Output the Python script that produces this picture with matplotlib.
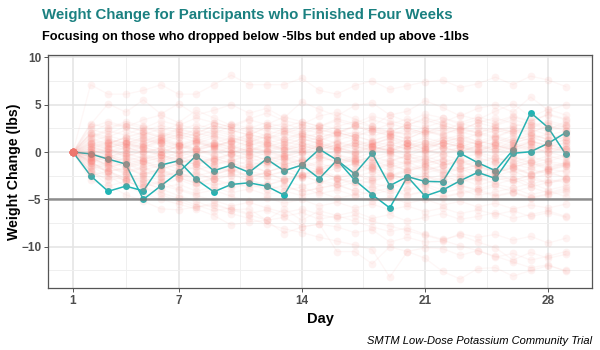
import numpy as np
import matplotlib
matplotlib.use('Agg')
from matplotlib import pyplot as plt
from matplotlib.ticker import FixedLocator

plt.rcParams['font.family'] = ['Liberation Sans', 'DejaVu Sans']

days = np.arange(1, 30)

# highlighted participants (dropped below -5 lbs, ended above -1 lbs)
focus_a = [0, -0.2, -0.75, -1.27, -5.0, -3.56, -2.15, -0.39, -1.98, -1.38, -2.15, -0.74, -1.98, -1.38,
           0.3, -0.85, -2.3, -0.15, -3.55, -2.6, -3.1, -3.14, -0.14, -1.13, -1.97, 0.21, 4.16, 2.57, -0.25]
focus_b = [0, -2.5, -4.15, -3.6, -4.1, -1.38, -0.92, -2.89, -4.2, -3.42, -3.25, -3.6, -4.55, -1.38,
           -2.8, -0.85, -2.95, -4.5, -5.9, -2.6, -4.65, -4.02, -3.03, -2.15, -2.79, -0.14, 0.03, 0.92, 2.05]

# everyone else, days 2..29 (day 1 is 0 for all)
others = [
    [7.1, 6.1, 6.1, 6.5, 7.1, 6.1, 6.1, 7.1, 8.1, 7.1, 7.1, 7.1, 7.8, 6.5, 6.1, 7.0, 7.5, 6.6, 7.0, 7.4, 7.6, 6.8, 7.2, 7.9, 7.1, 8.0, 7.6, 6.9],
    [2.9, 5.1, 4.2, 5.5, 4.0, 5.1, 3.9, 4.4, 5.0, 4.1, 4.6, 3.6, 5.3, 4.5, 3.8, 4.9, 5.2, 3.9, 4.3, 5.4, 4.7, 3.8, 4.6, 5.0, 4.2, 5.8, 4.4, 5.0],
    [2.0, 3.0, 2.6, 3.4, 3.9, 3.1, 4.4, 3.6, 2.8, 3.5, 4.1, 3.3, 2.9, 3.8, 4.2, 3.5, 2.7, 3.9, 3.2, 4.0, 3.6, 2.9, 3.4, 4.3, 5.1, 3.7, 4.5, 3.9],
    [1.0, 0.6, 1.2, 0.8, 1.5, 0.9, 1.3, 0.7, 1.1, 1.6, 0.9, 1.4, 1.0, 0.5, 1.2, 1.8, 1.1, 0.7, 1.3, 0.9, 1.5, 1.2, 0.8, 1.6, 1.0, 1.4, 1.9, 1.2],
    [-0.5, -1.0, -0.7, -1.3, -0.9, -1.5, -1.1, -0.6, -1.2, -1.8, -1.0, -1.4, -0.8, -1.6, -1.2, -0.9, -1.7, -1.3, -1.0, -1.9, -1.4, -1.1, -1.6, -2.0, -1.3, -1.7, -1.2, -1.5],
    [2.0, 1.6, 2.3, 1.8, 2.5, 2.1, 1.7, 2.4, 2.0, 2.7, 2.2, 1.9, 2.6, 2.3, 2.0, 2.8, 2.4, 2.1, 2.9, 2.5, 2.2, 3.0, 2.6, 2.3, 2.7, 3.1, 2.5, 2.8],
    [-1.5, -2.0, -1.8, -2.4, -2.1, -2.7, -2.3, -2.9, -2.5, -2.2, -2.8, -3.1, -2.6, -3.0, -3.4, -2.9, -3.3, -3.7, -3.1, -3.5, -3.0, -3.6, -3.9, -3.4, -3.8, -3.3, -4.0, -3.6],
    [0.2, -0.3, 0.5, 0.0, 0.4, -0.2, 0.3, 0.6, -0.1, 0.4, 0.1, -0.4, 0.3, 0.7, 0.2, -0.2, 0.5, 0.1, 0.6, 0.0, 0.4, 0.8, 0.3, -0.1, 0.5, 0.9, 0.4, 0.2],
    [-1.0, -0.4, -1.2, -0.8, -0.3, -1.1, -0.6, -1.4, -0.9, -0.5, -1.3, -0.7, -1.5, -1.0, -0.6, -1.2, -0.8, -1.6, -1.1, -0.7, -1.4, -0.9, -1.7, -1.2, -0.8, -1.5, -1.0, -1.3],
    [1.5, 2.2, 1.8, 2.6, 2.0, 1.6, 2.4, 1.9, 2.8, 2.3, 1.7, 2.5, 2.1, 2.9, 2.4, 1.8, 2.7, 2.2, 1.9, 2.6, 3.2, 2.5, 2.0, 2.8, 3.4, 2.9, 3.1, 2.6],
    [-2.0, -2.5, -3.0, -2.7, -3.3, -2.9, -3.6, -3.2, -3.8, -3.4, -4.0, -3.6, -4.2, -3.8, -3.5, -4.1, -4.5, -4.0, -4.6, -4.2, -4.8, -4.4, -4.1, -4.7, -4.3, -4.9, -4.5, -4.2],
    [0.6, 1.1, 0.4, 0.9, 1.3, 0.7, 1.2, 0.5, 1.0, 1.4, 0.8, 0.3, 1.1, 1.5, 0.9, 0.6, 1.2, 1.7, 1.0, 0.7, 1.3, 1.8, 1.1, 0.8, 1.4, 2.0, 1.3, 1.6],
    [-0.2, 0.3, -0.5, 0.1, -0.3, -0.8, -0.2, 0.2, -0.6, -0.1, -0.9, -0.4, 0.0, -0.7, -0.3, -1.0, -0.5, -0.1, -0.8, -0.4, -1.1, -0.6, -0.2, -0.9, -0.5, -1.2, -0.7, -0.3],
    [1.2, 0.8, 1.6, 2.1, 1.5, 2.4, 1.9, 2.8, 2.3, 1.8, 2.6, 3.0, 2.4, 2.0, 2.7, 3.2, 2.6, 2.1, 2.9, 3.4, 2.8, 2.3, 3.1, 3.6, 3.0, 2.5, 3.3, 2.8],
    [-1.2, -1.7, -1.1, -1.9, -1.4, -2.2, -1.6, -2.4, -1.8, -1.3, -2.1, -1.5, -2.3, -1.8, -2.6, -2.0, -1.6, -2.4, -2.9, -2.2, -1.8, -2.7, -2.1, -2.5, -3.0, -2.4, -2.0, -2.8],
    [0.5, 0.0, 0.8, 0.3, -0.2, 0.6, 1.0, 0.4, -0.1, 0.7, 1.1, 0.2, 0.6, 1.2, 0.5, 0.0, 0.9, 1.4, 0.6, 0.1, 1.0, 1.5, 0.8, 0.3, 1.2, 1.7, 0.9, 1.3],
    [-0.8, -1.3, -2.0, -1.6, -2.3, -1.8, -2.5, -2.1, -1.7, -2.6, -2.2, -2.9, -2.4, -2.0, -2.8, -3.2, -2.6, -2.2, -3.0, -2.5, -3.3, -2.8, -3.5, -3.0, -2.6, -3.4, -2.9, -3.2],
    [0.0, 0.5, 0.9, 0.4, 1.0, 0.6, 0.2, 0.8, 0.3, 0.9, 0.5, 1.1, 0.7, 0.2, 0.8, 1.3, 0.6, 0.2, 0.9, 0.4, 1.0, 0.5, 1.2, 0.7, 0.3, 1.1, 0.6, 0.9],
    [-0.3, -0.8, -0.4, -1.0, -1.5, -0.9, -1.3, -0.7, -1.2, -1.7, -1.1, -0.6, -1.4, -1.9, -1.3, -0.8, -1.6, -1.2, -2.0, -1.5, -1.0, -1.8, -1.4, -2.1, -1.6, -1.1, -1.9, -1.4],
    [3.0, 2.5, 3.2, 2.7, 2.2, 2.9, 2.4, 3.1, 2.6, 2.1, 2.8, 2.3, 1.9, 2.6, 2.1, 2.7, 2.2, 1.8, 2.5, 2.0, 2.6, 2.1, 1.7, 2.3, 1.9, 2.4, 1.8, 2.2],
    [-2.5, -2.0, -2.8, -2.3, -1.8, -2.6, -2.1, -2.9, -2.4, -3.0, -2.5, -2.0, -2.7, -2.2, -3.1, -2.6, -2.1, -2.9, -2.4, -3.2, -2.7, -2.3, -3.0, -2.5, -2.0, -2.8, -2.3, -2.6],
    [0.8, 1.3, 0.9, 1.6, 1.2, 1.8, 1.4, 2.0, 1.5, 1.1, 1.7, 1.3, 1.9, 1.5, 2.1, 1.6, 1.2, 1.8, 1.4, 2.2, 1.7, 1.3, 1.9, 1.5, 2.3, 1.8, 1.4, 2.0],
    [-0.6, -0.2, -0.9, -0.5, -1.0, -0.4, -1.2, -0.7, -0.2, -1.0, -0.6, -1.3, -0.8, -0.3, -1.1, -0.7, -1.4, -0.9, -0.4, -1.2, -0.8, -1.5, -1.0, -0.5, -1.3, -0.9, -1.6, -1.1],
    [1.8, 1.2, 0.7, 1.4, 0.9, 0.3, 1.0, 0.5, 1.2, 0.6, 0.1, 0.8, 0.3, 1.0, 0.4, -0.1, 0.6, 0.2, 0.9, 0.3, -0.2, 0.5, 0.0, 0.7, 0.2, -0.3, 0.4, 0.1],
    [-1.8, -1.3, -2.2, -1.7, -2.5, -2.0, -1.5, -2.3, -1.8, -2.6, -2.1, -1.6, -2.4, -1.9, -1.4, -2.2, -1.7, -2.5, -2.0, -1.6, -2.3, -1.8, -1.4, -2.1, -1.7, -2.4, -1.9, -1.5],
    [0.3, 0.9, 1.5, 1.1, 1.8, 1.3, 2.0, 1.6, 1.1, 1.9, 1.4, 2.2, 1.7, 1.2, 2.0, 1.6, 2.4, 1.9, 1.4, 2.2, 1.8, 2.6, 2.1, 1.6, 2.4, 2.0, 2.8, 2.3],
    [-0.1, -0.6, 0.2, -0.3, -0.8, 0.0, -0.5, -1.0, -0.3, 0.2, -0.4, -0.9, -0.2, 0.3, -0.3, -0.7, 0.0, 0.4, -0.2, -0.6, 0.1, 0.5, -0.1, -0.5, 0.2, 0.6, 0.0, 0.3],
    [0.4, 1.0, 0.5, 1.3, 0.8, 0.2, 0.9, 1.5, 0.7, 0.1, 1.0, 0.6, 1.4, 0.9, 0.3, 1.1, 0.7, 1.6, 1.0, 0.5, 1.3, 0.8, 0.2, 1.0, 1.7, 1.2, 0.6, 1.0],
    [-0.9, -0.3, -1.4, -0.9, -1.8, -1.2, -0.7, -1.6, -2.1, -1.5, -1.0, -1.9, -1.4, -2.3, -1.7, -1.2, -2.0, -2.5, -1.8, -1.3, -2.2, -1.7, -2.6, -2.0, -1.5, -2.3, -1.8, -2.1],
    [1.6, 2.4, 3.0, 2.5, 3.3, 2.8, 3.6, 3.1, 2.6, 3.4, 2.9, 3.7, 3.2, 2.7, 3.5, 3.0, 3.8, 3.3, 2.8, 3.6, 3.1, 3.9, 3.4, 2.9, 3.7, 3.2, 4.0, 3.5],
    [-0.4, 0.2, -0.2, 0.5, 0.0, 0.7, 0.3, -0.2, 0.6, 0.1, 0.8, 0.4, -0.1, 0.7, 0.2, 0.9, 0.5, 0.0, 0.8, 0.3, 1.0, 0.6, 0.1, 0.9, 0.4, 1.1, 0.7, 0.3],
    [-1.3, -2.1, -1.6, -2.5, -3.0, -2.4, -3.2, -2.7, -2.2, -3.0, -3.5, -2.9, -2.4, -3.2, -2.7, -3.5, -3.0, -2.5, -3.3, -2.8, -3.6, -3.1, -2.6, -3.4, -2.9, -3.7, -3.2, -2.7],
    [0.9, 0.4, 1.1, 0.5, 1.3, 0.8, 0.3, 1.0, 0.5, 1.2, 0.7, 0.2, 0.9, 0.4, 1.1, 0.6, 0.1, 0.8, 0.3, 1.0, 0.5, 0.0, 0.7, 0.2, 0.9, 0.4, -0.1, 0.6],
    [-0.7, -1.2, -0.6, -1.0, -0.5, -0.9, -0.3, -0.8, -0.2, -0.7, -0.1, -0.6, -1.1, -0.5, -1.0, -0.4, -0.9, -0.3, -0.8, -1.3, -0.7, -1.2, -0.6, -1.1, -0.5, -1.0, -0.4, -0.9],
    [2.4, 1.9, 2.7, 2.2, 1.7, 2.5, 2.0, 2.8, 2.3, 1.8, 2.6, 2.1, 2.9, 2.4, 1.9, 2.7, 2.2, 3.0, 2.5, 2.0, 2.8, 2.3, 3.1, 2.6, 2.1, 2.9, 2.4, 3.2],
    [-2.2, -2.8, -2.3, -3.1, -2.6, -2.1, -2.9, -2.4, -1.9, -2.7, -2.2, -3.0, -2.5, -2.0, -2.8, -2.3, -3.1, -2.6, -2.1, -2.9, -2.4, -3.2, -2.7, -2.2, -3.0, -2.5, -3.3, -2.8],
    [0.1, 0.7, 0.2, 0.8, 0.3, 0.9, 0.4, 1.0, 0.5, 0.0, 0.6, 0.1, 0.7, 0.2, 0.8, 0.3, 0.9, 0.4, -0.1, 0.5, 1.0, 0.6, 0.1, 0.7, 0.2, 0.8, 0.3, 0.5],
    [-0.2, -0.7, -0.1, -0.6, 0.0, -0.5, 0.1, -0.4, -0.9, -0.3, -0.8, -0.2, -0.7, -0.1, -0.6, -1.1, -0.5, -1.0, -0.4, -0.9, -0.3, -0.8, -1.2, -0.6, -1.1, -0.5, -1.0, -0.4],
    [1.1, 1.7, 1.2, 1.8, 1.3, 1.9, 1.4, 0.9, 1.5, 1.0, 1.6, 1.1, 1.7, 1.2, 1.8, 1.3, 0.8, 1.4, 0.9, 1.5, 1.0, 1.6, 1.1, 1.7, 1.2, 1.8, 1.3, 1.9],
    [-1.6, -1.1, -1.7, -1.2, -1.8, -1.3, -1.9, -1.4, -2.0, -1.5, -2.1, -1.6, -1.1, -1.7, -1.2, -1.8, -1.3, -1.9, -1.4, -2.0, -1.5, -2.1, -1.6, -2.2, -1.7, -2.3, -1.8, -1.3],
    [0.6, 0.0, 0.5, -0.1, 0.4, -0.2, 0.3, -0.3, 0.2, -0.4, 0.1, -0.5, 0.0, 0.6, 0.1, 0.7, 0.2, 0.8, 0.3, 0.9, 0.4, 1.0, 0.5, 1.1, 0.6, 1.2, 0.7, 1.3],
    [-3.0, -3.6, -3.1, -3.7, -3.2, -2.7, -3.3, -2.8, -3.4, -2.9, -3.5, -3.0, -3.6, -3.1, -3.7, -3.2, -3.8, -3.3, -3.9, -3.4, -4.0, -3.5, -4.1, -3.6, -4.2, -3.7, -4.3, -3.8],
    [1.4, 0.9, 1.5, 2.0, 1.6, 2.1, 1.7, 2.2, 1.8, 1.3, 1.9, 1.4, 2.0, 1.5, 2.1, 1.6, 2.2, 1.7, 2.3, 1.8, 2.4, 1.9, 2.5, 2.0, 2.6, 2.1, 2.7, 2.2],
    [-0.5, 0.0, -0.4, 0.1, -0.3, 0.2, -0.2, 0.3, -0.1, 0.4, 0.0, 0.5, 0.1, -0.4, 0.2, -0.3, 0.3, -0.2, 0.4, -0.1, 0.5, 0.0, 0.6, 0.1, 0.7, 0.2, 0.8, 0.3],
    [0.8, 0.3, -0.2, -0.7, -0.3, -0.8, -1.3, -0.9, -1.4, -1.0, -1.5, -1.1, -1.6, -1.2, -1.7, -1.3, -1.8, -1.4, -1.9, -1.5, -2.0, -1.6, -2.1, -1.7, -2.2, -1.8, -2.3, -1.9],
    [-1.1, -0.5, 0.0, 0.6, 1.1, 0.7, 1.2, 1.7, 1.3, 1.8, 1.4, 1.9, 1.5, 2.0, 1.6, 2.1, 1.7, 2.2, 1.8, 2.3, 1.9, 2.4, 2.0, 2.5, 2.1, 2.6, 2.2, 2.7],
    [0.3, -0.4, -1.0, -1.6, -1.2, -1.8, -1.3, -1.9, -1.4, -2.0, -2.5, -2.1, -2.6, -2.2, -2.7, -2.3, -2.8, -2.4, -2.9, -2.5, -3.0, -2.6, -3.1, -2.7, -3.2, -2.8, -3.3, -2.9],
    [2.6, 3.2, 2.7, 2.2, 2.8, 2.3, 2.9, 2.4, 3.0, 2.5, 3.1, 2.6, 3.2, 2.7, 3.3, 2.8, 3.4, 2.9, 3.5, 3.0, 3.6, 3.1, 3.7, 3.2, 3.8, 3.3, 3.9, 3.4],
    [-0.1, 0.4, 0.9, 0.5, 0.0, 0.6, 0.1, 0.7, 0.2, -0.3, 0.3, -0.2, 0.4, -0.1, 0.5, 0.0, 0.6, 0.1, -0.4, 0.2, -0.3, 0.3, -0.2, 0.4, -0.1, 0.5, 0.0, -0.5],
    [-0.4, -1.0, -1.5, -1.1, -0.6, -1.2, -0.7, -1.3, -0.8, -1.4, -0.9, -0.4, -1.0, -0.5, -1.1, -0.6, -1.2, -0.7, -1.3, -0.8, -1.4, -0.9, -1.5, -1.0, -1.6, -1.1, -1.7, -1.2],
    [1.9, 1.4, 0.9, 1.5, 1.0, 1.6, 1.1, 0.6, 1.2, 0.7, 1.3, 0.8, 1.4, 0.9, 0.4, 1.0, 0.5, 1.1, 0.6, 1.2, 0.7, 1.3, 0.8, 1.4, 0.9, 1.5, 1.0, 1.6],
    [-1.0, -2.0, -2.8, -3.5, -3.1, -3.9, -4.4, -4.0, -4.7, -5.2, -4.8, -5.4, -5.0, -5.7, -5.3, -5.9, -5.5, -6.1, -5.7, -6.3, -5.9, -6.5, -6.1, -6.6, -6.2, -6.8, -6.4, -6.9],
    [-0.5, -1.5, -1.2, -2.1, -2.6, -2.2, -3.0, -3.5, -3.1, -3.8, -3.4, -4.1, -4.6, -4.2, -4.9, -4.5, -5.2, -4.8, -5.4, -5.0, -5.6, -5.2, -5.8, -5.4, -6.0, -5.6, -5.9, -5.5],
    [-2.0, -3.0, -2.6, -3.3, -3.8, -3.4, -4.1, -3.7, -4.3, -3.9, -4.5, -4.1, -3.7, -4.4, -4.0, -4.6, -4.2, -3.8, -4.5, -4.1, -4.7, -4.3, -3.9, -4.6, -4.2, -4.8, -4.4, -4.0],
    [0.0, -0.8, -1.6, -2.3, -1.9, -2.7, -3.3, -2.9, -3.6, -3.2, -3.9, -3.5, -4.2, -3.8, -3.4, -4.1, -3.7, -4.4, -4.0, -3.6, -4.3, -3.9, -4.6, -4.2, -3.8, -4.5, -4.1, -4.7],
    [-2.0, -3.5, -4.5, -5.2, -6.0, -6.1, -5.8, -5.6, -6.1, -6.0, -7.2, -6.0, -7.2, -6.2, -6.7, -6.3, -7.0, -6.6, -7.3, -6.9, -6.5, -7.1, -6.8, -6.4, -7.0, -6.6, -6.2, -6.8],
    [-1.5, -2.5, -3.6, -4.4, -5.0, -5.5, -6.0, -6.7, -7.7, -7.4, -7.2, -8.6, -7.9, -7.6, -7.9, -8.5, -8.2, -9.5, -9.0, -9.5, -9.4, -8.6, -9.0, -8.7, -9.3, -8.9, -9.6, -9.1],
    [-1.0, -2.2, -3.0, -3.8, -4.5, -5.2, -5.8, -5.4, -6.1, -6.6, -7.2, -6.9, -7.9, -7.6, -10.5, -10.5, -11.8, -10.0, -10.5, -10.1, -10.2, -10.9, -10.4, -11.1, -10.7, -11.4, -11.0, -10.5],
    [-0.5, -1.5, -2.4, -3.2, -3.9, -4.6, -5.2, -5.9, -6.5, -7.0, -7.6, -8.1, -8.5, -9.0, -9.4, -9.8, -10.3, -13.2, -10.5, -11.2, -12.6, -13.4, -12.3, -12.2, -13.1, -12.5, -12.0, -12.5],
    [-1.2, -2.0, -3.1, -3.7, -4.3, -4.9, -5.6, -6.2, -5.9, -6.5, -6.1, -6.8, -6.4, -7.1, -6.7, -7.3, -7.9, -8.4, -8.0, -8.7, -9.2, -8.8, -9.5, -10.1, -11.4, -10.6, -11.2, -10.8],
    [-0.8, -1.6, -2.2, -2.9, -3.5, -4.0, -4.6, -5.1, -5.7, -5.3, -5.9, -6.4, -6.0, -6.6, -7.0, -6.7, -7.3, -7.8, -8.3, -8.8, -9.3, -9.9, -10.4, -11.0, -11.6, -12.2, -11.9, -12.6],
]

x_ticks = [1, 7, 14, 21, 28]
x_minor = [4, 10.5, 17.5, 24.5]
y_ticks = [-10, -5, 0, 5, 10]
y_minor = [-12.5, -7.5, -2.5, 2.5, 7.5]

red = '#F8766D'
teal = '#1FB5B5'

fig = plt.figure(figsize=(6, 3.5), dpi=100)
ax = fig.add_axes([0.0805, 0.176, 0.9065, 0.667])

for f in (focus_a, focus_b):
    ax.plot(days, f, color=teal, lw=1.1, marker='o', ms=5, mec='none', zorder=3)

for row in others:
    y = [0] + row
    ax.plot(days, y, color=red, lw=0.9, alpha=0.06, zorder=4)
    ax.plot(days, y, ls='none', marker='o', ms=5.5, mfc=red, mec='none', alpha=0.09, zorder=4)

ax.axhline(-5, color='#6E6E6E', lw=1.8, alpha=0.75, zorder=5)

ax.set_xlim(-0.4, 30.5)
ax.set_ylim(-14.39, 10.24)
ax.xaxis.set_major_locator(FixedLocator(x_ticks))
ax.xaxis.set_minor_locator(FixedLocator(x_minor))
ax.yaxis.set_major_locator(FixedLocator(y_ticks))
ax.yaxis.set_minor_locator(FixedLocator(y_minor))
ax.grid(which='major', color='#E3E3E3', lw=1.1, zorder=0)
ax.grid(which='minor', color='#EFEFEF', lw=0.7, zorder=0)
ax.set_axisbelow(True)
for s in ax.spines.values():
    s.set_color('#555555')
    s.set_linewidth(0.9)
ax.tick_params(which='major', length=3, width=0.7, color='#555555', labelsize=8.5,
               labelcolor='#4D4D4D', pad=2)
ax.tick_params(which='minor', length=0)
for lab in ax.get_xticklabels() + ax.get_yticklabels():
    lab.set_fontweight('bold')

ax.set_xlabel('Day', fontsize=10.5, fontweight='bold', labelpad=3)
ax.set_ylabel('Weight Change (lbs)', fontsize=10.2, fontweight='bold', labelpad=0.5)

fig.text(0.07, 0.958, 'Weight Change for Participants who Finished Four Weeks',
         fontsize=10.8, fontweight='bold', color='#1A8080', va='center')
fig.text(0.07, 0.893, 'Focusing on those who dropped below -5lbs but ended up above -1lbs',
         fontsize=9.2, fontweight='bold', color='black', va='center')
fig.text(0.987, 0.025, 'SMTM Low-Dose Potassium Community Trial', fontsize=8,
         style='italic', ha='right', va='center')

fig.savefig('out.png', dpi=100)
